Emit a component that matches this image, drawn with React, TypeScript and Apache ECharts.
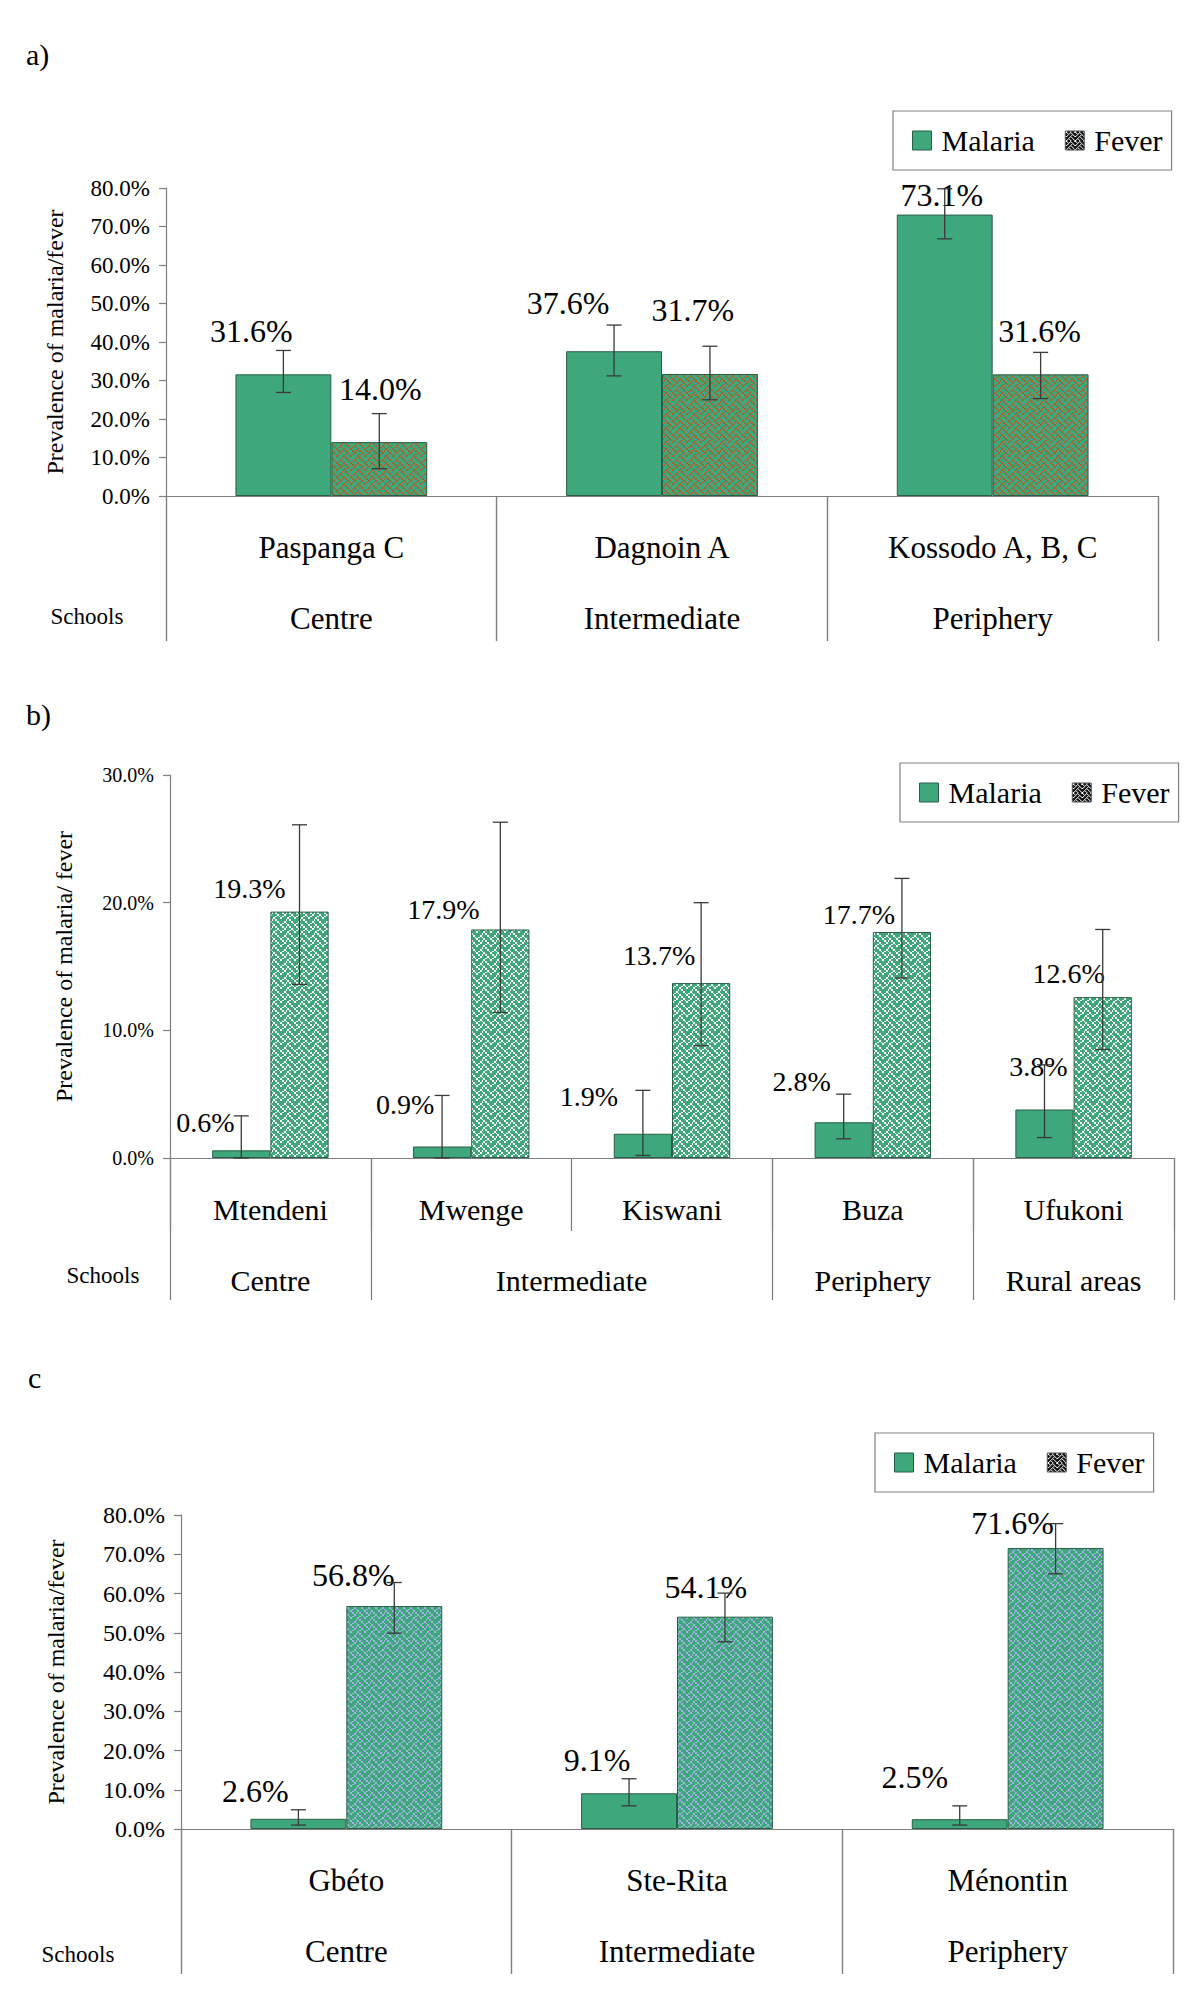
import React, { useEffect, useRef } from 'react';
import * as echarts from 'echarts';

const FONT = 'Liberation Serif';
const GREEN = '#3ea77b';
const BAR_BORDER = '#2b5e47';
const AXIS_GRAY = '#7f7f7f';

// ---------- Panel a ----------
const schoolsA = ['Paspanga C', 'Dagnoin A', 'Kossodo A, B, C'];
const zonesA = ['Centre', 'Intermediate', 'Periphery'];
const zoneSpansA = [1, 1, 1];
const malariaA = [31.6, 37.6, 73.1];
const feverA = [14.0, 31.7, 31.6];
const malariaLowA = [26.9, 31.2, 66.8];
const malariaHighA = [37.8, 44.4, 79.8];
const feverLowA = [7.1, 25.0, 25.3];
const feverHighA = [21.4, 38.9, 37.3];
const yMaxA = 80;

// ---------- Panel b ----------
const schoolsB = ['Mtendeni', 'Mwenge', 'Kiswani', 'Buza', 'Ufukoni'];
const zonesB = ['Centre', 'Intermediate', 'Periphery', 'Rural areas'];
const zoneSpansB = [1, 2, 1, 1];
const malariaB = [0.6, 0.9, 1.9, 2.8, 3.8];
const feverB = [19.3, 17.9, 13.7, 17.7, 12.6];
const malariaLowB = [0, 0, 0.2, 1.5, 1.6];
const malariaHighB = [3.3, 4.9, 5.3, 5.0, 7.3];
const feverLowB = [13.6, 11.4, 8.8, 14.1, 8.5];
const feverHighB = [26.1, 26.3, 20.0, 21.9, 17.9];
const yMaxB = 30;

// ---------- Panel c ----------
const schoolsC = ['Gbéto', 'Ste-Rita', 'Ménontin'];
const zonesC = ['Centre', 'Intermediate', 'Periphery'];
const zoneSpansC = [1, 1, 1];
const malariaC = [2.6, 9.1, 2.5];
const feverC = [56.8, 54.1, 71.6];
const malariaLowC = [1.0, 5.9, 1.0];
const malariaHighC = [4.9, 12.8, 5.9];
const feverLowC = [49.9, 47.7, 65.0];
const feverHighC = [62.8, 60.1, 77.8];
const yMaxC = 80;

// label nudges (pixels) for the hand-placed value labels
const nudgeMalA = [[-32, -43], [-46, -48], [-3, -20]];
const nudgeFevA = [[1, -53], [-17, -64], [-1, -43]];
const nudgeMalB = [[-36, -28], [-37, -42], [-54, -37], [-42, -41], [-6, -43]];
const nudgeFevB = [[-50, -23], [-57, -20], [-42, -28], [-43, -18], [-34, -24]];
const nudgeMalC = [[-43, -28], [-32, -33], [-45, -42]];
const nudgeFevC = [[-41, -31], [-19, -30], [-43, -25]];

const WEAVE = [0x88, 0x54, 0x22, 0x45, 0x88, 0x14, 0x22, 0x51];
function makePattern(bg: string, fg: string, size: number) {
  const c = document.createElement('canvas');
  c.width = size;
  c.height = size;
  const ctx = c.getContext('2d')!;
  ctx.fillStyle = bg;
  ctx.fillRect(0, 0, size, size);
  ctx.fillStyle = fg;
  for (let py = 0; py < size; py++) {
    for (let px = 0; px < size; px++) {
      const by = Math.floor((py * 8) / size);
      const bx = Math.floor((px * 8) / size);
      if ((WEAVE[by] >> (7 - bx)) & 1) ctx.fillRect(px, py, 1, 1);
    }
  }
  return { image: c, repeat: 'repeat', imageWidth: size, imageHeight: size } as any;
}

const CAT_GAP = 0.42;

export default function App() {
  const ref = useRef<HTMLDivElement>(null);
  useEffect(() => {
    document.body.style.margin = '0';
    if (!ref.current) return;
    const chart = echarts.init(ref.current, undefined, { renderer: 'svg' });

    const patA = makePattern(GREEN, '#a8622e', 14);
    const patB = makePattern(GREEN, '#ffffff', 14);
    const patC = makePattern(GREEN, '#a3b3e3', 14);
    const patLegend = makePattern('#111111', '#ffffff', 9);

    const panels = [
      {
        schools: schoolsA, zones: zonesA, spans: zoneSpansA,
        mal: malariaA, fev: feverA, malLo: malariaLowA, malHi: malariaHighA,
        fevLo: feverLowA, fevHi: feverHighA, yMax: yMaxA,
        nMal: nudgeMalA, nFev: nudgeFevA, pat: patA,
        grid: { left: 166, right: 42, top: 188, height: 308 },
        yName: 'Prevalence of malaria/fever', nameGap: 111, tickFont: 23,
        labelFont: 32, catFont: 31, schoolTick: 145, zoneTick: 145,
        legend: { left: 893, top: 111 },
      },
      {
        schools: schoolsB, zones: zonesB, spans: zoneSpansB,
        mal: malariaB, fev: feverB, malLo: malariaLowB, malHi: malariaHighB,
        fevLo: feverLowB, fevHi: feverHighB, yMax: yMaxB,
        nMal: nudgeMalB, nFev: nudgeFevB, pat: patB,
        grid: { left: 170, right: 26, top: 775, height: 383 },
        yName: 'Prevalence of malaria/ fever', nameGap: 106, tickFont: 20,
        labelFont: 28, catFont: 30, schoolTick: 73, zoneTick: 142,
        legend: { left: 900, top: 763 },
      },
      {
        schools: schoolsC, zones: zonesC, spans: zoneSpansC,
        mal: malariaC, fev: feverC, malLo: malariaLowC, malHi: malariaHighC,
        fevLo: feverLowC, fevHi: feverHighC, yMax: yMaxC,
        nMal: nudgeMalC, nFev: nudgeFevC, pat: patC,
        grid: { left: 181, right: 27, top: 1515, height: 314 },
        yName: 'Prevalence of malaria/fever', nameGap: 125, tickFont: 24,
        labelFont: 32, catFont: 31, schoolTick: 145, zoneTick: 145,
        legend: { left: 875, top: 1433 },
      },
    ];

    const grids: any[] = [];
    const xAxes: any[] = [];
    const yAxes: any[] = [];
    const series: any[] = [];
    const legends: any[] = [];

    panels.forEach((p, i) => {
      grids.push({ ...p.grid, containLabel: false });
      const n = p.schools.length;
      const bounds = [0];
      p.spans.forEach((s) => bounds.push(bounds[bounds.length - 1] + s));
      const centres = p.spans.map((s, k) => bounds[k] + s / 2);

      xAxes.push({
        type: 'category',
        gridIndex: i,
        data: p.schools,
        axisLine: { show: true, lineStyle: { color: AXIS_GRAY, width: 1.2 } },
        axisTick: { show: true, alignWithLabel: false, length: p.schoolTick, lineStyle: { color: AXIS_GRAY, width: 1.2 } },
        axisLabel: {
          interval: 0, margin: 51, verticalAlign: 'middle',
          fontFamily: FONT, fontSize: p.catFont, color: '#000',
        },
        splitLine: { show: false },
      });
      xAxes.push({
        type: 'value',
        gridIndex: i,
        position: 'bottom',
        min: 0,
        max: n,
        axisLine: { show: false },
        axisTick: { show: true, customValues: bounds, length: p.zoneTick, lineStyle: { color: AXIS_GRAY, width: 1.2 } },
        axisLabel: {
          show: true, customValues: centres, margin: 122, verticalAlign: 'middle',
          fontFamily: FONT, fontSize: p.catFont, color: '#000',
          formatter: (v: number) => {
            let best = 0;
            centres.forEach((c, k) => { if (Math.abs(c - v) < Math.abs(centres[best] - v)) best = k; });
            return p.zones[best];
          },
        },
        splitLine: { show: false },
      });
      yAxes.push({
        type: 'value',
        gridIndex: i,
        min: 0,
        max: p.yMax,
        interval: 10,
        axisLine: { show: true, lineStyle: { color: AXIS_GRAY, width: 1.2 } },
        axisTick: { show: true, length: 7, lineStyle: { color: AXIS_GRAY, width: 1.2 } },
        axisLabel: {
          margin: 16, fontFamily: FONT, fontSize: p.tickFont, color: '#000',
          formatter: (v: number) => v.toFixed(1) + '%',
        },
        splitLine: { show: false },
        name: p.yName,
        nameLocation: 'middle',
        nameRotate: 90,
        nameGap: p.nameGap,
        nameTextStyle: { fontFamily: FONT, fontSize: 24, color: '#000', verticalAlign: 'middle' },
      });

      const labelBase = {
        show: true, position: 'top', distance: 0, verticalAlign: 'middle', align: 'center',
        fontFamily: FONT, fontSize: p.labelFont, color: '#000',
        formatter: (prm: any) => Number(prm.value).toFixed(1) + '%',
      };
      series.push({
        type: 'bar', name: 'Malaria', xAxisIndex: 2 * i, yAxisIndex: i,
        barGap: '0%', barCategoryGap: CAT_GAP * 100 + '%',
        itemStyle: { color: GREEN, borderColor: BAR_BORDER, borderWidth: 1 },
        label: labelBase,
        data: p.mal.map((v, k) => ({ value: v, label: { offset: p.nMal[k] } })),
        z: 2,
      });
      series.push({
        type: 'bar', name: 'Fever', xAxisIndex: 2 * i, yAxisIndex: i,
        barGap: '0%', barCategoryGap: CAT_GAP * 100 + '%',
        itemStyle: { color: p.pat, borderColor: BAR_BORDER, borderWidth: 1 },
        label: labelBase,
        data: p.fev.map((v, k) => ({ value: v, label: { offset: p.nFev[k] } })),
        z: 2,
      });
      const errRows: number[][] = [];
      p.mal.forEach((_, k) => errRows.push([k, p.malLo[k], p.malHi[k], 0]));
      p.fev.forEach((_, k) => errRows.push([k, p.fevLo[k], p.fevHi[k], 1]));
      series.push({
        type: 'custom', name: 'err' + i, xAxisIndex: 2 * i, yAxisIndex: i,
        silent: true, z: 5,
        encode: { x: 0, y: [1, 2] },
        data: errRows,
        renderItem: (params: any, api: any) => {
          const cat = api.value(0);
          const lo = api.value(1);
          const hi = api.value(2);
          const side = api.value(3);
          const band = api.size([1, 0])[0];
          const barW = (band * (1 - CAT_GAP)) / 2;
          const cx = api.coord([cat, 0])[0] + (side === 0 ? -barW / 2 : barW / 2);
          const yLo = api.coord([cat, lo])[1];
          const yHi = api.coord([cat, hi])[1];
          const cap = 7.5;
          const st = { stroke: '#3a3a3a', lineWidth: 1.3 };
          return {
            type: 'group',
            children: [
              { type: 'line', shape: { x1: cx, y1: yLo, x2: cx, y2: yHi }, style: st },
              { type: 'line', shape: { x1: cx - cap, y1: yHi, x2: cx + cap, y2: yHi }, style: st },
              { type: 'line', shape: { x1: cx - cap, y1: yLo, x2: cx + cap, y2: yLo }, style: st },
            ],
          };
        },
      });

      legends.push({
        left: p.legend.left,
        top: p.legend.top,
        orient: 'horizontal',
        padding: [14, 9, 14, 19],
        itemGap: 30,
        itemWidth: 19,
        itemHeight: 19,
        borderColor: '#808080',
        borderWidth: 1.2,
        selectedMode: false,
        icon: 'rect',
        textStyle: { fontFamily: FONT, fontSize: 30, color: '#000', lineHeight: 31, padding: [0, 0, 0, 5] },
        data: [
          { name: 'Malaria', itemStyle: { color: GREEN, borderColor: BAR_BORDER, borderWidth: 1 } },
          { name: 'Fever', itemStyle: { color: patLegend, borderColor: '#555', borderWidth: 1 } },
        ],
      });
    });

    const textEl = (txt: string, x: number, y: number, size: number, align = 'left') => ({
      type: 'text', x, y,
      style: { text: txt, fontFamily: FONT, fontSize: size, fill: '#000', align, verticalAlign: 'middle' },
    });

    chart.setOption({
      animation: false,
      backgroundColor: '#ffffff',
      textStyle: { fontFamily: FONT },
      grid: grids,
      xAxis: xAxes,
      yAxis: yAxes,
      legend: legends,
      series,
      graphic: [
        textEl('a)', 26, 54, 30),
        textEl('b)', 26, 714, 30),
        textEl('c', 28, 1377, 30),
        textEl('Schools', 87, 616, 23, 'center'),
        textEl('Schools', 103, 1275, 23, 'center'),
        textEl('Schools', 78, 1954, 23, 'center'),
      ],
    });

    return () => chart.dispose();
  }, []);

  return <div ref={ref} style={{ width: 1200, height: 2000 }} />;
}
